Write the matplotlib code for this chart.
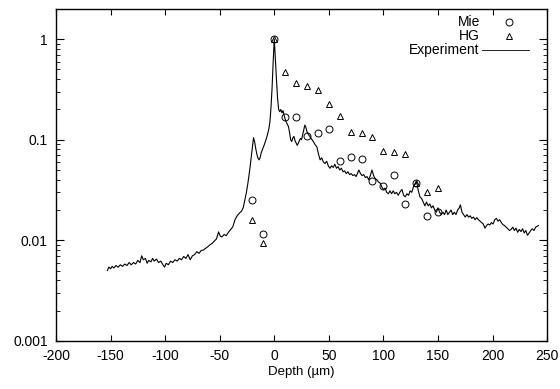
import numpy as np
import matplotlib
matplotlib.use("Agg")
import matplotlib.pyplot as plt

plt.rcParams['font.family'] = ['Liberation Sans', 'DejaVu Sans']
plt.rcParams['axes.unicode_minus'] = False

# model points (depth in um, normalised signal)
mie_depth = [-20, -10, 0, 10, 20, 30, 40, 50, 60, 70, 80, 90, 100, 110, 120, 130, 140, 150]
mie_value = [0.025, 0.0116, 1.0, 0.167, 0.167, 0.110, 0.116, 0.127, 0.062, 0.068, 0.064,
             0.0386, 0.0347, 0.0443, 0.0231, 0.0367, 0.0176, 0.0193]

hg_depth = [-20, -10, 0, 10, 20, 30, 40, 50, 60, 70, 80, 90, 100, 110, 120, 130, 140, 150]
hg_value = [0.0158, 0.0094, 1.0, 0.470, 0.368, 0.344, 0.312, 0.226, 0.171, 0.120, 0.118,
            0.106, 0.0767, 0.0750, 0.0726, 0.0367, 0.0303, 0.0331]

exp_depth = [-153, -151.5, -150, -148.5, -147, -145, -143, -141, -139, -137, -135, -133,
             -131, -129, -127, -125, -123, -121.5, -120, -118, -116.5, -115, -113, -111.5,
             -110, -108, -106, -104, -102, -100.5, -99, -97, -95, -93, -91, -89, -87, -85,
             -83, -81, -79, -77, -75, -73, -71, -69, -67, -65, -63, -61, -59, -57, -55, -53,
             -51, -49.5, -48, -46, -44, -42, -40, -38, -36, -34, -32, -30, -28.5, -27, -25.5,
             -24, -22.5, -21, -20, -19, -18, -17, -16, -15, -14, -13, -12, -11, -10, -9, -8,
             -7, -6, -5, -4, -3, -2, -1, 0,
             1, 2, 3, 4, 5, 6, 7, 8, 9, 10, 11, 12, 13, 14, 15, 16, 17, 18, 19, 20, 21, 22,
             23, 24, 25, 26, 27, 28, 29, 30, 31.5, 33, 34.5, 36, 37.5, 39, 40.5, 42, 43.5, 45,
             46.5, 48, 49.5, 51, 52.5, 54, 55.5, 57, 58.5, 60, 61.5, 63, 64.5, 66, 67.5, 69,
             70.5, 72, 73.5, 75, 76.5, 77.5, 79, 80.5, 82, 83.5, 85, 86.5, 88, 89.5, 91, 92.5,
             94, 95.5, 97, 98.5, 100, 101.5, 103, 104.5, 106, 107.5, 109, 110.5, 112, 113.5,
             115, 117, 118.5, 120, 121.5, 123, 124.5, 126, 127.5, 129, 130.5, 132, 133.5, 135,
             136.5, 138, 139.5, 141, 142.5, 144, 145.5, 147, 148.5, 150, 151.5, 153, 154.5,
             156, 157.5, 159, 160.5, 162, 163.5, 165, 166.5, 168, 169.5, 170.5, 172, 173.5,
             175, 176.5, 178, 179.5, 181, 182.5, 184, 185.5, 187, 188.5, 190, 191.5, 193,
             194.5, 196, 197.5, 199, 200.5, 202, 203.5, 205, 206.5, 208, 209.5, 211, 212.5,
             214, 215.5, 217, 218.5, 220, 221.5, 223, 224.5, 226, 227.5, 229, 230.5, 232,
             233.5, 235, 236.5, 238, 239.5, 241, 242]
exp_value = [0.0050, 0.0054, 0.0052, 0.0055, 0.0053, 0.0056, 0.0054, 0.0057, 0.0055, 0.0058,
             0.0056, 0.0060, 0.0057, 0.0060, 0.0058, 0.0063, 0.0060, 0.0070, 0.0064, 0.0066,
             0.0059, 0.0063, 0.0061, 0.0066, 0.0062, 0.0065, 0.0060, 0.0062, 0.0057, 0.0054,
             0.0059, 0.0057, 0.0062, 0.0060, 0.0064, 0.0062, 0.0066, 0.0064, 0.0069, 0.0066,
             0.0072, 0.0064, 0.0070, 0.0072, 0.0077, 0.0074, 0.0079, 0.0080, 0.0083, 0.0086,
             0.0090, 0.0093, 0.0098, 0.0103, 0.0121, 0.0110, 0.0108, 0.0114, 0.0111, 0.0120,
             0.0128, 0.0136, 0.0160, 0.0175, 0.0186, 0.0195, 0.0210, 0.0250, 0.0300, 0.0380,
             0.050, 0.068, 0.085, 0.105, 0.095, 0.082, 0.072, 0.066, 0.063, 0.066, 0.074,
             0.079, 0.084, 0.090, 0.097, 0.105, 0.115, 0.128, 0.150, 0.210, 0.330, 0.600, 1.0,
             0.62, 0.40, 0.26, 0.20, 0.19, 0.20, 0.185, 0.195, 0.175, 0.16, 0.15, 0.142, 0.135,
             0.118, 0.100, 0.096, 0.104, 0.108, 0.098, 0.093, 0.088, 0.092, 0.098, 0.103, 0.100,
             0.112, 0.126, 0.140, 0.132, 0.120, 0.112, 0.106, 0.100, 0.095, 0.089, 0.085, 0.072,
             0.063, 0.066, 0.060, 0.058, 0.061, 0.055, 0.052, 0.055, 0.053, 0.057, 0.052, 0.054,
             0.050, 0.052, 0.048, 0.049, 0.046, 0.048, 0.045, 0.046, 0.044, 0.045, 0.043, 0.047,
             0.050, 0.046, 0.044, 0.045, 0.042, 0.043, 0.040, 0.044, 0.050, 0.044, 0.041, 0.040,
             0.038, 0.037, 0.034, 0.032, 0.033, 0.030, 0.029, 0.031, 0.029, 0.031, 0.029, 0.030,
             0.028, 0.030, 0.032, 0.028, 0.027, 0.029, 0.028, 0.031, 0.030, 0.034, 0.036, 0.038,
             0.031, 0.027, 0.026, 0.024, 0.022, 0.024, 0.022, 0.023, 0.021, 0.022, 0.020, 0.019,
             0.021, 0.019, 0.018, 0.019, 0.018, 0.020, 0.018, 0.019, 0.020, 0.018, 0.019, 0.018,
             0.020, 0.021, 0.0225, 0.019, 0.018, 0.017, 0.018, 0.017, 0.0175, 0.0165, 0.017,
             0.016, 0.0168, 0.016, 0.0155, 0.015, 0.0145, 0.0132, 0.014, 0.0145, 0.0142, 0.015,
             0.0145, 0.016, 0.0165, 0.0155, 0.016, 0.015, 0.0143, 0.014, 0.0135, 0.013, 0.0125,
             0.0128, 0.0135, 0.0125, 0.0132, 0.0120, 0.0128, 0.0122, 0.013, 0.0118, 0.0125,
             0.0112, 0.0118, 0.0125, 0.0130, 0.0125, 0.0135, 0.0138, 0.0140]

x_ticks = [-200, -150, -100, -50, 0, 50, 100, 150, 200, 250]
y_ticks = [0.001, 0.01, 0.1, 1]
y_ticklabels = ['0.001', '0.01', '0.1', '1']

fig = plt.figure(figsize=(5.6, 3.89), dpi=100)
ax = fig.add_axes([0.1, 0.124, 0.877, 0.853])

ax.plot(exp_depth, exp_value, color='black', lw=0.8)
ax.plot(mie_depth, mie_value, linestyle='none', marker='o', ms=5, mfc='none', mec='black', mew=0.7)
ax.plot(hg_depth, hg_value, linestyle='none', marker='^', ms=4.5, mfc='none', mec='black', mew=0.7)

ax.set_yscale('log')
ax.set_xlim(-200, 250)
ax.set_ylim(0.001, 2)
ax.set_xticks(x_ticks)
ax.set_yticks(y_ticks)
ax.set_yticklabels(y_ticklabels)
ax.tick_params(axis='both', which='both', direction='in', top=True, right=True, labelsize=10)
ax.tick_params(axis='x', which='major', length=4, pad=6)
ax.tick_params(axis='y', which='major', length=6, pad=6)
ax.tick_params(axis='y', which='minor', length=3)
for s in ax.spines.values():
    s.set_linewidth(1.0)
ax.set_xlabel('Depth (µm)', fontsize=9.5, labelpad=2)

# gnuplot style key: right-justified labels with samples to their right
key_label = ['Mie', 'HG', 'Experiment']
key_y = [0.962, 0.919, 0.876]
key_style = [dict(marker='o', ms=5, linestyle='none'),
             dict(marker='^', ms=4.5, linestyle='none'),
             None]
for lab, yk, st in zip(key_label, key_y, key_style):
    ax.text(0.863, yk, lab, transform=ax.transAxes, ha='right', va='center', fontsize=10)
    if st is None:
        ax.plot([0.868, 0.963], [yk, yk], transform=ax.transAxes, color='black', lw=0.6)
    else:
        ax.plot([0.9225], [yk], transform=ax.transAxes, mfc='none', mec='black', mew=0.7, **st)

fig.savefig('out.png', dpi=100)
